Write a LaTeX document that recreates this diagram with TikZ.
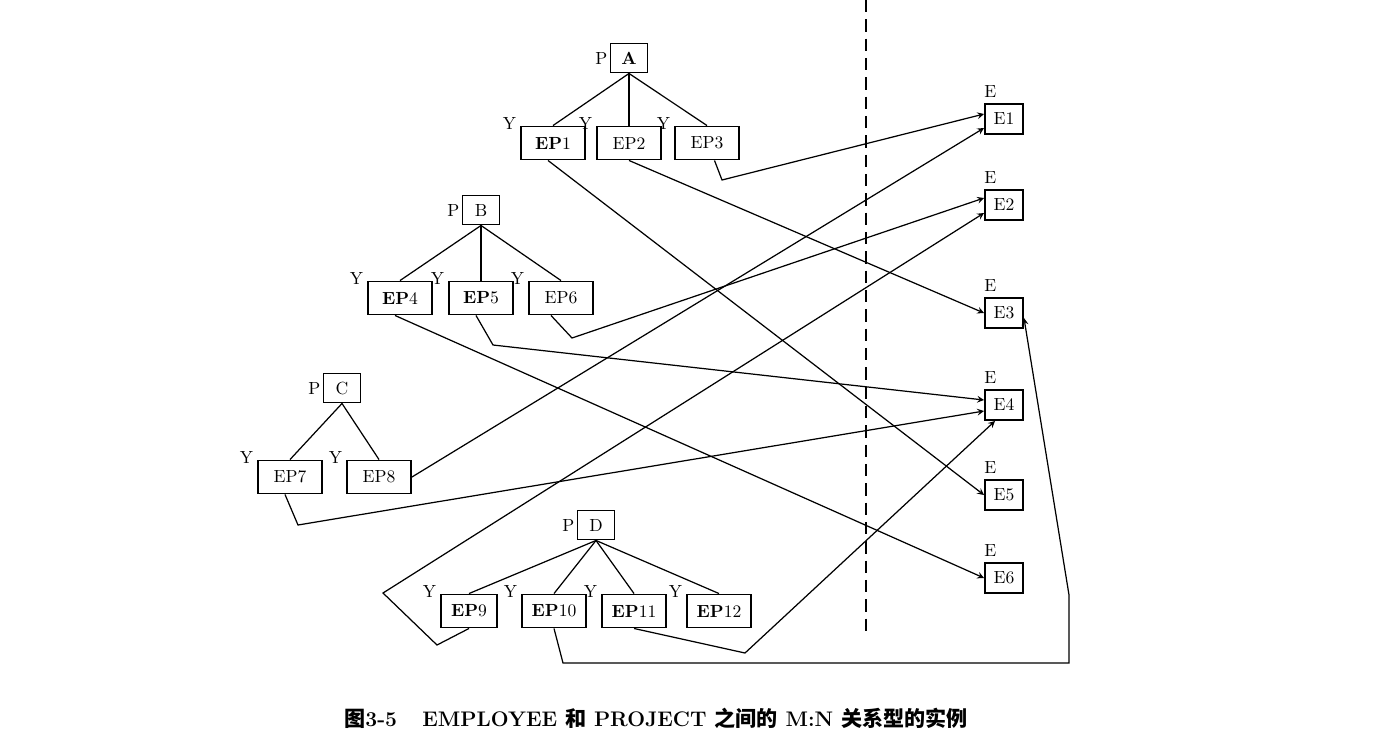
\documentclass[tikz,border=0pt]{standalone}
\usepackage{fontspec}
\newfontfamily\cjk{Noto Sans CJK SC}
\usetikzlibrary{calc}

\begin{document}
\begin{tikzpicture}[
  proj/.style={draw,line width=1.1pt,minimum width=0.74cm,minimum height=0.58cm,inner sep=1pt},
  emp/.style={draw,line width=1.1pt,minimum width=1.28cm,minimum height=0.66cm,inner sep=1pt},
  ent/.style={draw,line width=1.1pt,minimum width=0.76cm,minimum height=0.6cm,inner sep=1pt},
  plab/.style={label={[label distance=0pt,inner sep=1pt]left:P}},
  ylab/.style={label={[anchor=east,inner sep=2pt,yshift=1pt]north west:Y}},
  elab/.style={label={[anchor=south west,inner sep=0pt,yshift=3pt]north west:E}},
  link/.style={line width=0.7pt},
  ref/.style={line width=0.7pt,-stealth}
]
\useasboundingbox (0,0) rectangle (27.72,-14.92);

% draw project A
\begin{scope}[shift={(12.58,-1.16)}]
\node[proj,plab] (A) at (0,0) {\textbf{A}};
\node[emp,ylab] (EP1) at (-1.52,-1.7) {\textbf{EP}1};
\node[emp,ylab] (EP2) at (0,-1.7) {EP2};
\node[emp,ylab] (EP3) at (1.56,-1.7) {EP3};
\draw[link] (A.south) -- (EP1.north);
\draw[line width=1.2pt] (A.south) -- (EP2.north);
\draw[link] (A.south) -- (EP3.north);
\end{scope}

% draw project B
\begin{scope}[shift={(9.62,-4.2)}]
\node[proj,plab] (B) at (0,0) {B};
\node[emp,ylab] (EP4) at (-1.62,-1.76) {\textbf{EP}4};
\node[emp,ylab] (EP5) at (0,-1.76) {\textbf{EP}5};
\node[emp,ylab] (EP6) at (1.6,-1.76) {EP6};
\draw[link] (B.south) -- (EP4.north);
\draw[line width=1.2pt] (B.south) -- (EP5.north);
\draw[link] (B.south) -- (EP6.north);
\end{scope}

% draw project C
\begin{scope}[shift={(6.84,-7.76)}]
\node[proj,plab] (C) at (0,0) {C};
\node[emp,ylab] (EP7) at (-1.04,-1.78) {EP7};
\node[emp,ylab] (EP8) at (0.74,-1.78) {EP8};
\draw[link] (C.south) -- (EP7.north);
\draw[link] (C.south) -- (EP8.north);
\end{scope}

% draw project D
\begin{scope}[shift={(11.92,-10.5)}]
\node[proj,plab] (D) at (0,0) {D};
\node[emp,ylab,minimum width=1.12cm] (EP9) at (-2.54,-1.72) {\textbf{EP}9};
\node[emp,ylab] (EP10) at (-0.84,-1.72) {\textbf{EP}10};
\node[emp,ylab] (EP11) at (0.76,-1.72) {\textbf{EP}11};
\node[emp,ylab] (EP12) at (2.46,-1.72) {\textbf{EP}12};
\draw[link] (D.south) -- (EP9.north);
\draw[link] (D.south) -- (EP10.north);
\draw[link] (D.south) -- (EP11.north);
\draw[link] (D.south) -- (EP12.north);
\end{scope}

% draw employees
\node[ent,elab] (E1) at (20.08,-2.38) {E1};
\node[ent,elab] (E2) at (20.08,-4.1) {E2};
\node[ent,elab] (E3) at (20.08,-6.26) {E3};
\node[ent,elab] (E4) at (20.08,-8.1) {E4};
\node[ent,elab] (E5) at (20.08,-9.9) {E5};
\node[ent,elab] (E6) at (20.08,-11.56) {E6};

% draw delimiter
\draw[line width=0.8pt,dash pattern=on 7pt off 4pt] (17.32,0) -- (17.32,-12.64);

% draw pointers
\draw[ref] ([xshift=1.5mm]EP3.south) -- (14.44,-3.6) -- ([yshift=1mm]E1.west);
\draw[ref] ([xshift=-1mm]EP1.south) -- (E5.west);
\draw[ref] (EP2.south) -- (E3.west);
\draw[ref] ([xshift=-2mm]EP6.south) -- (11.44,-6.76) -- ([yshift=1.4mm]E2.west);
\draw[ref] ([xshift=-1mm]EP5.south) -- (9.86,-6.9) -- ([yshift=1mm]E4.west);
\draw[ref] ([xshift=-1mm]EP4.south) -- (E6.west);
\draw[ref] (EP8.east) -- ([yshift=-1.8mm]E1.west);
\draw[ref] ([xshift=-1mm]EP7.south) -- (5.96,-10.5) -- ([yshift=-1.2mm]E4.west);
\draw[ref] (EP9.south) -- (8.74,-12.9) -- (7.66,-11.86) -- ([yshift=-1.6mm]E2.west);
\draw[ref] (EP11.south) -- (14.9,-13.06) -- ([xshift=-1.8mm]E4.south);
\draw[ref] (EP10.south) -- (11.26,-13.26) -- (21.38,-13.26) -- (21.38,-11.9) -- ([yshift=-1mm]E3.east);

% draw caption
\node[font=\fontsize{12}{14}\selectfont\bfseries] (cap) at (13.12,-14.36)
  {{\cjk 图}3-5\hspace{1.2em}EMPLOYEE {\cjk 和} PROJECT {\cjk 之间的} M:N {\cjk 关系型的实例}};
\end{tikzpicture}
\end{document}
